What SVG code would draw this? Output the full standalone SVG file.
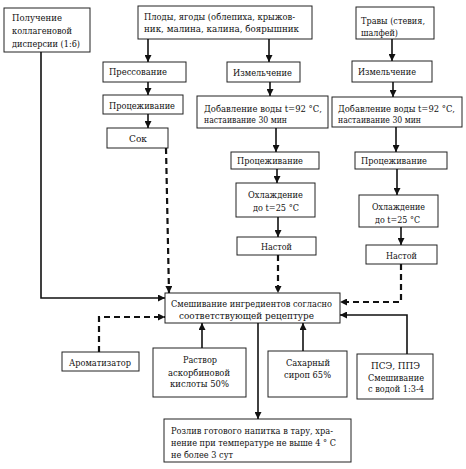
<svg xmlns="http://www.w3.org/2000/svg" width="466" height="469" viewBox="0 0 466 469">
<style>
rect{fill:#fff;stroke:#222;stroke-width:1}
text{font-family:"DejaVu Serif","Liberation Serif",serif;font-size:10px;fill:#111}
.sm{font-size:9.2px}
.s{fill:none;stroke:#111;stroke-width:1.6}
.d{fill:none;stroke:#111;stroke-width:2.2;stroke-dasharray:6,4}
</style>
<defs>
<marker id="a" markerUnits="userSpaceOnUse" markerWidth="8" markerHeight="7" refX="7" refY="3.5" orient="auto"><path d="M0,0 L7,3.5 L0,7 z" fill="#111"/></marker>
</defs>
<rect x="0" y="0" width="466" height="469" style="stroke:none;fill:#fff"/>
<g id="n1"><rect x="4" y="8" width="86" height="44"/><text x="12" y="21" textLength="50" lengthAdjust="spacingAndGlyphs">Получение</text><text x="12" y="34" textLength="60" lengthAdjust="spacingAndGlyphs">коллагеновой</text><text x="12" y="47" textLength="68" lengthAdjust="spacingAndGlyphs">дисперсии (1:6)</text></g>
<g id="n2"><rect x="138" y="6" width="174" height="33"/><text x="144" y="20" textLength="151" lengthAdjust="spacingAndGlyphs">Плоды, ягоды (облепиха, крыжов-</text><text x="144" y="32" textLength="155" lengthAdjust="spacingAndGlyphs">ник, малина, калина, боярышник</text></g>
<g id="n3"><rect x="356" y="7" width="78" height="32"/><text x="361" y="24" textLength="64" lengthAdjust="spacingAndGlyphs">Травы (стевия,</text><text x="361" y="36" textLength="37" lengthAdjust="spacingAndGlyphs">шалфей)</text></g>
<g id="n4"><rect x="103" y="62" width="83" height="20"/><text x="109" y="75" textLength="58" lengthAdjust="spacingAndGlyphs">Прессование</text></g>
<g id="n5"><rect x="103" y="95" width="80" height="19"/><text x="109" y="108.5" textLength="66" lengthAdjust="spacingAndGlyphs">Процеживание</text></g>
<g id="n6"><rect x="107" y="128" width="61" height="20"/><text x="129" y="142" textLength="18" lengthAdjust="spacingAndGlyphs">Сок</text></g>
<g id="n7"><rect x="227" y="62" width="73" height="20"/><text x="233" y="75.5" textLength="59" lengthAdjust="spacingAndGlyphs">Измельчение</text></g>
<g id="n8"><rect x="197" y="96" width="131" height="32"/><text class="sm" x="204" y="111.5" textLength="118" lengthAdjust="spacingAndGlyphs">Добавление воды t=92 °С,</text><text x="204" y="123" textLength="83" lengthAdjust="spacingAndGlyphs">настаивание 30 мин</text></g>
<g id="n9"><rect x="231" y="152" width="88" height="17"/><text x="237" y="164" textLength="66" lengthAdjust="spacingAndGlyphs">Процеживание</text></g>
<g id="n10"><rect x="236" y="183" width="79" height="34"/><text x="248" y="198" textLength="55" lengthAdjust="spacingAndGlyphs">Охлаждение</text><text x="253" y="211" textLength="46" lengthAdjust="spacingAndGlyphs">до t=25 °С</text></g>
<g id="n11"><rect x="237" y="237" width="79" height="18"/><text x="261" y="250" textLength="31" lengthAdjust="spacingAndGlyphs">Настой</text></g>
<g id="n12"><rect x="352" y="61" width="80" height="21"/><text x="358" y="75" textLength="58" lengthAdjust="spacingAndGlyphs">Измельчение</text></g>
<g id="n13"><rect x="332" y="97" width="130" height="30"/><text class="sm" x="338" y="111.5" textLength="117" lengthAdjust="spacingAndGlyphs">Добавление воды t=92 °С,</text><text x="338" y="123" textLength="83" lengthAdjust="spacingAndGlyphs">настаивание 30 мин</text></g>
<g id="n14"><rect x="355" y="152" width="92" height="17"/><text x="361" y="164" textLength="66" lengthAdjust="spacingAndGlyphs">Процеживание</text></g>
<g id="n15"><rect x="359" y="195" width="79" height="32"/><text x="372" y="210" textLength="53" lengthAdjust="spacingAndGlyphs">Охлаждение</text><text x="375" y="223" textLength="45" lengthAdjust="spacingAndGlyphs">до t=25 °С</text></g>
<g id="n16"><rect x="366" y="245" width="71" height="19"/><text x="386" y="258.5" textLength="31" lengthAdjust="spacingAndGlyphs">Настой</text></g>
<g id="n17"><rect x="165" y="293" width="175" height="30"/><text x="171" y="307" textLength="161" lengthAdjust="spacingAndGlyphs">Смешивание ингредиентов согласно</text><text x="179" y="318.5" textLength="135" lengthAdjust="spacingAndGlyphs">соответствующей рецептуре</text></g>
<g id="n18"><rect x="62" y="352" width="77" height="19"/><text x="69" y="365.5" textLength="62" lengthAdjust="spacingAndGlyphs">Ароматизатор</text></g>
<g id="n19"><rect x="153" y="348" width="93" height="49"/><text x="183" y="363" textLength="34" lengthAdjust="spacingAndGlyphs">Раствор</text><text x="168" y="375.5" textLength="62" lengthAdjust="spacingAndGlyphs">аскорбиновой</text><text x="170" y="387" textLength="59" lengthAdjust="spacingAndGlyphs">кислоты 50%</text></g>
<g id="n20"><rect x="268" y="351" width="79" height="46"/><text x="286" y="366" textLength="44" lengthAdjust="spacingAndGlyphs">Сахарный</text><text x="284" y="378" textLength="47" lengthAdjust="spacingAndGlyphs">сироп 65%</text></g>
<g id="n21"><rect x="357" y="354" width="76" height="45"/><text x="371" y="369" textLength="49" lengthAdjust="spacingAndGlyphs">ПСЭ, ППЭ</text><text x="368" y="381" textLength="56" lengthAdjust="spacingAndGlyphs">Смешивание</text><text x="368" y="392" textLength="56" lengthAdjust="spacingAndGlyphs">с водой 1:3-4</text></g>
<g id="n22"><rect x="164" y="419" width="187" height="43"/><text x="171" y="434" textLength="162" lengthAdjust="spacingAndGlyphs">Розлив готового напитка в тару, хра-</text><text x="171" y="446" textLength="165" lengthAdjust="spacingAndGlyphs">нение при температуре не выше 4 ° С</text><text x="171" y="458" textLength="62" lengthAdjust="spacingAndGlyphs">не более 3 сут</text></g>
<g id="connectors">
<path class="s" d="M41,52 V298 H165" marker-end="url(#a)"/>
<path class="s" d="M148,39 V62" marker-end="url(#a)"/>
<path class="s" d="M148,82 V95" marker-end="url(#a)"/>
<path class="s" d="M148,114 V128" marker-end="url(#a)"/>
<path class="d" d="M166,148 L169,293" marker-end="url(#a)"/>
<path class="s" d="M269,39 V62" marker-end="url(#a)"/>
<path class="s" d="M270,82 V96" marker-end="url(#a)"/>
<path class="s" d="M276,128 V152" marker-end="url(#a)"/>
<path class="s" d="M277,169 V183" marker-end="url(#a)"/>
<path class="s" d="M278,217 V237" marker-end="url(#a)"/>
<path class="d" d="M278,255 V293" marker-end="url(#a)"/>
<path class="s" d="M392,39 V61" marker-end="url(#a)"/>
<path class="s" d="M393,82 V97" marker-end="url(#a)"/>
<path class="s" d="M396,127 V152" marker-end="url(#a)"/>
<path class="s" d="M397,169 V195" marker-end="url(#a)"/>
<path class="s" d="M401,227 V245" marker-end="url(#a)"/>
<path class="d" d="M401,264 V302 H340" marker-end="url(#a)"/>
<path class="s" d="M407,354 V315 H340" marker-end="url(#a)"/>
<path class="d" d="M99,352 V317 H165" marker-end="url(#a)"/>
<path class="s" d="M202,348 V323" marker-end="url(#a)"/>
<path class="s" d="M303,351 V323" marker-end="url(#a)"/>
<path class="s" d="M258,323 V419" marker-end="url(#a)"/>
</g>
</svg>
